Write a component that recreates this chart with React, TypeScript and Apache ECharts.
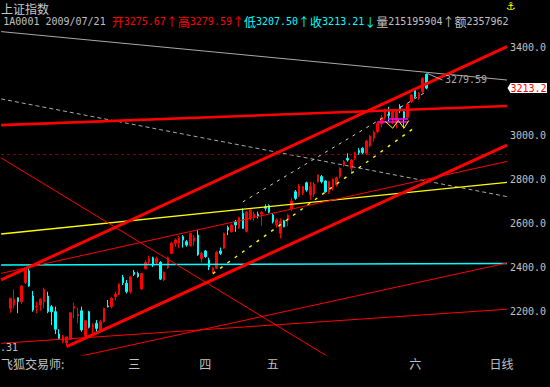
import React, { useEffect, useRef } from 'react';
import * as echarts from 'echarts';

// ---- category slots (2 empty leading slots, 112 trading days, empty tail) ----
const LEAD_SLOTS = 2;
const TOTAL_SLOTS = 135;
const categories = Array.from({ length: TOTAL_SLOTS }, (_, i) => `k${i}`);
const monthLabels: Record<number, string> = { 35: '三', 54: '四', 72: '五', 110: '六', 133: '日线' };

// ---- daily candles (上证指数, Feb–Jul 2009) ----
const opens = [
  2212, 2227, 2260, 2242, 2329, 2382, 2268, 2219, 2227, 2242,
  2268, 2219, 2197, 2095, 2061, 2055, 2071, 2212, 2177, 2201,
  2084, 2197, 2126, 2144, 2114, 2151, 2223, 2219, 2265, 2277,
  2353, 2326, 2288, 2376, 2371, 2300, 2392, 2424, 2442, 2421,
  2421, 2341, 2397, 2462, 2508, 2508, 2538, 2515, 2497, 2518,
  2545, 2439, 2473, 2432, 2379, 2394, 2473, 2485, 2580, 2560,
  2606, 2579, 2644, 2562, 2624, 2624, 2640, 2640, 2674, 2679,
  2636, 2591, 2553, 2610, 2614, 2664, 2742, 2727, 2736, 2783,
  2727, 2732, 2788, 2811, 2791, 2742, 2765, 2773, 2811, 2864,
  2894, 2849, 2894, 2929, 2940, 2917, 2950, 2985, 3015, 3050,
  3080, 3114, 3076, 3060, 3129, 3106, 3080, 3151, 3204, 3167,
  3197, 3275.67,
];
const closes = [
  2258, 2253, 2242, 2314, 2390, 2314, 2205, 2223, 2253, 2298,
  2197, 2197, 2117, 2076, 2084, 2082, 2192, 2220, 2186, 2114,
  2156, 2126, 2132, 2121, 2151, 2212, 2219, 2258, 2277, 2323,
  2329, 2288, 2356, 2367, 2356, 2371, 2420, 2439, 2409, 2439,
  2345, 2376, 2442, 2508, 2523, 2533, 2523, 2500, 2553, 2533,
  2455, 2462, 2447, 2400, 2394, 2467, 2462, 2553, 2568, 2591,
  2591, 2624, 2576, 2650, 2659, 2640, 2633, 2649, 2667, 2649,
  2606, 2614, 2606, 2583, 2636, 2700, 2712, 2768, 2764, 2750,
  2765, 2777, 2818, 2788, 2742, 2788, 2799, 2806, 2849, 2879,
  2886, 2886, 2920, 2920, 2920, 2973, 2995, 3012, 3053, 3078,
  3114, 3088, 3106, 3106, 3114, 3076, 3141, 3182, 3174, 3189,
  3258, 3213.21,
];
const lows = [
  2192, 2212, 2190, 2232, 2323, 2310, 2197, 2190, 2201, 2212,
  2190, 2136, 2095, 2068, 2053, 2038, 2068, 2167, 2144, 2106,
  2076, 2121, 2091, 2106, 2110, 2147, 2216, 2212, 2247, 2273,
  2318, 2280, 2280, 2359, 2351, 2296, 2390, 2412, 2400, 2409,
  2341, 2336, 2391, 2458, 2492, 2485, 2488, 2492, 2492, 2497,
  2451, 2421, 2442, 2386, 2371, 2391, 2455, 2482, 2545, 2557,
  2560, 2573, 2573, 2557, 2614, 2610, 2621, 2588, 2655, 2644,
  2598, 2579, 2530, 2580, 2586, 2655, 2705, 2718, 2727, 2742,
  2705, 2718, 2783, 2780, 2738, 2732, 2747, 2765, 2803, 2856,
  2879, 2829, 2886, 2909, 2909, 2909, 2945, 2970, 3008, 3035,
  3070, 3062, 3050, 3030, 3100, 3030, 3075, 3145, 3168, 3160,
  3190, 3207.5,
];
const highs = [
  2260, 2298, 2262, 2318, 2394, 2398, 2291, 2242, 2258, 2306,
  2288, 2227, 2220, 2117, 2091, 2085, 2193, 2238, 2215, 2220,
  2159, 2201, 2144, 2159, 2159, 2215, 2250, 2262, 2288, 2326,
  2364, 2341, 2359, 2386, 2379, 2373, 2430, 2451, 2447, 2447,
  2427, 2379, 2447, 2515, 2530, 2541, 2545, 2523, 2556, 2545,
  2568, 2470, 2477, 2442, 2401, 2473, 2488, 2556, 2588, 2594,
  2614, 2629, 2667, 2655, 2667, 2652, 2652, 2655, 2685, 2685,
  2644, 2621, 2621, 2615, 2640, 2714, 2750, 2777, 2768, 2788,
  2788, 2786, 2821, 2818, 2795, 2792, 2803, 2811, 2853, 2886,
  2917, 2891, 2924, 2940, 2944, 2977, 3000, 3020, 3060, 3092,
  3120, 3128, 3110, 3110, 3140, 3112, 3145, 3186, 3210, 3195,
  3262, 3279.59,
];

// ---- drawn lines: [trading-day index, price] ----
const grayTop = [[-2.5, 3470], [132.5, 3250]];
const channelUpper = [[-2.5, 2341], [132.5, 3402]];
const channelLower = [[15, 2038], [132.5, 2954]];
const flatRed = [[-2.5, 3045], [132.5, 3132]];
const fanRed = [[-2.5, 2371], [132.5, 2880]];
const fallRed = [[-2.5, 2896], [90, 1938]];
const baseRed1 = [[-2.5, 2053], [132.5, 2208]];
const baseRed2 = [[-2.5, 1916], [132.5, 2418]];
const grayDash = [[-2.5, 3164], [132.5, 2720]];
const grayDash2 = [[62, 2696], [111.5, 3202]];
const yellowLine = [[-2.5, 2550], [132.5, 2785]];
const yellowDash = [[54, 2370], [108, 3036]];
const cyanLine = [[-2.5, 2409], [132.5, 2416]];
const darkRedLevel = [[-2.5, 2911], [132.5, 2911]];
const magentaHi = [[100.8, 3073], [106.1, 3073]];
const magentaLo = [[97.9, 3059], [106.1, 3059]];
const yellowW = [[100, 3062], [102, 3031], [103.5, 3066], [105, 3031], [106.3, 3066]];

const MONO = '"DejaVu Sans Mono", monospace';
const CJK = '"Noto Sans CJK SC", sans-serif';
const GRAY = '#c0c0c0';

export default function App() {
  const ref = useRef<HTMLDivElement>(null);
  useEffect(() => {
    document.body.style.margin = '0';
    document.body.style.background = '#000';
    const chart = echarts.init(ref.current!, null, { renderer: 'svg' });
    const candleData = opens.map((o, i) => [LEAD_SLOTS + i, o, closes[i], lows[i], highs[i]]);
    const mk = (data: number[][], color: string, width: number, type: any = 'solid', z = 3) => ({
      type: 'line', xAxisIndex: 1, yAxisIndex: 0, data, symbol: 'none', silent: true,
      clip: true, lineStyle: { color, width, type }, z,
    });
    const rn = (c: string) => ({ fill: c, fontFamily: MONO, fontSize: 10 });
    const rc = (c: string) => ({ fill: c, fontFamily: CJK, fontSize: 12 });

    chart.setOption({
      animation: false,
      backgroundColor: '#000',
      grid: { left: 0, right: 43, top: 29.4, bottom: 32 },
      xAxis: [
        {
          type: 'category', data: categories, boundaryGap: true,
          axisLine: { show: false }, axisTick: { show: false }, splitLine: { show: false },
          axisLabel: {
            interval: 0, margin: 2, color: GRAY, fontSize: 12, fontFamily: CJK,
            formatter: (_v: string, idx: number) => monthLabels[idx] || '',
          },
        },
        { type: 'value', min: -2.5, max: 132.5, show: false },
      ],
      yAxis: {
        type: 'value', position: 'right', min: 2000, max: 3480, interval: 200, scale: true,
        axisLine: { show: false }, axisTick: { show: false }, splitLine: { show: false },
        axisLabel: {
          margin: 3, color: GRAY, fontSize: 10, fontFamily: MONO,
          formatter: (v: number) => (v % 200 === 0 && v !== 2000 && v !== 3200 ? v.toFixed(1) : ''),
        },
      },
      series: [
        {
          type: 'candlestick', xAxisIndex: 0, yAxisIndex: 0, data: candleData,
          encode: { x: 0, y: [1, 2, 3, 4] }, barWidth: 2, silent: true, z: 2,
          itemStyle: { color: '#ff0000', color0: '#00ffff', borderColor: '#ff0000', borderColor0: '#00ffff', borderWidth: 1 },
        },
        mk(grayTop, '#a8a8a8', 1),
        mk(grayDash, '#a8a8a8', 1, [4, 3]),
        mk(grayDash2, '#d0d0d0', 1, [3, 5]),
        mk(darkRedLevel, '#900000', 1, [3, 3]),
        mk(cyanLine, '#00ffff', 1.4),
        mk(yellowLine, '#ffff00', 1.3),
        mk(yellowDash, '#ffff00', 1.4, [3, 6]),
        mk(fanRed, '#ff0000', 1),
        mk(fallRed, '#ff0000', 1),
        mk(baseRed1, '#ff0000', 1),
        mk(baseRed2, '#ff0000', 1),
        mk(channelUpper, '#ff0000', 3),
        mk(channelLower, '#ff0000', 3),
        mk(flatRed, '#ff0000', 2.6),
        mk(magentaHi, '#ff00ff', 1.5, 'solid', 4),
        mk(magentaLo, '#ff00ff', 1.5, 'solid', 4),
        mk(yellowW, '#ffff00', 1, 'solid', 4),
      ],
      graphic: [
        { id: 'title', type: 'text', x: 1, y: 2, z: 100, style: { text: '上证指数', fill: '#c8c8c8', fontFamily: CJK, fontSize: 12, verticalAlign: 'top' } },
        {
          id: 'quote', type: 'text', x: 3.3, y: 21.5, z: 100,
          style: {
            text: '{g|1A0001 2009/07/21 }{rc|开}{rn|3275.67}{rc|↑高}{rn|3279.59}{rc|↑}{cc|低}{cn|3207.50}{cc|↑收}{cn|3213.21}{cc|↓}{gc|量}{g|215195904}{gc|↑额}{g|2357962}',
            verticalAlign: 'middle',
            rich: {
              g: rn(GRAY), gc: rc(GRAY), rn: rn('#ff0000'), rc: rc('#ff0000'), cn: rn('#00ffff'), cc: rc('#00ffff'),
            },
          },
        },
        { id: 'anchor', type: 'text', x: 511, y: 6, z: 100, style: { text: '⚓', fill: '#ffff00', fontFamily: '"DejaVu Sans"', fontSize: 11, align: 'center', verticalAlign: 'middle' } },
        { id: 'brand', type: 'text', x: 1, y: 363.5, z: 100, style: { text: '飞狐交易师:', fill: GRAY, fontFamily: CJK, fontSize: 12, verticalAlign: 'middle' } },
        { id: 'low31', type: 'text', x: 0, y: 347.5, z: 100, style: { text: '.31', fill: GRAY, fontFamily: MONO, fontSize: 10, verticalAlign: 'middle' } },
      ],
    });

    const last = opens.length - 1;
    const hp = chart.convertToPixel({ seriesIndex: 1 }, [last, highs[last]]) as number[];
    const cp = chart.convertToPixel({ seriesIndex: 1 }, [last, closes[last]]) as number[];
    const tx = 507.5;
    chart.setOption({
      graphic: [
        { id: 'hiLead', type: 'line', z: 100, shape: { x1: hp[0] + 1, y1: hp[1], x2: hp[0] + 16, y2: hp[1] + 6.5 }, style: { stroke: '#a8a8a8', lineWidth: 1 } },
        { id: 'hiText', type: 'text', x: hp[0] + 18.5, y: hp[1] + 6.5, z: 100, style: { text: highs[last].toFixed(2), fill: '#a8a8a8', fontFamily: MONO, fontSize: 10, verticalAlign: 'middle' } },
        { id: 'tagBox', type: 'polygon', z: 100, shape: { points: [[tx, cp[1]], [tx + 3, cp[1] - 5], [547, cp[1] - 5], [547, cp[1] + 5], [tx + 3, cp[1] + 5]] }, style: { fill: '#ffffff' } },
        { id: 'tagText', type: 'text', x: 510.5, y: cp[1], z: 101, style: { text: closes[last].toFixed(1), fill: '#ff0000', fontFamily: MONO, fontSize: 10, verticalAlign: 'middle' } },
      ],
    });
    return () => chart.dispose();
  }, []);
  return <div ref={ref} style={{ position: 'absolute', left: 0, top: 0, width: 550, height: 387, background: '#000' }} />;
}
